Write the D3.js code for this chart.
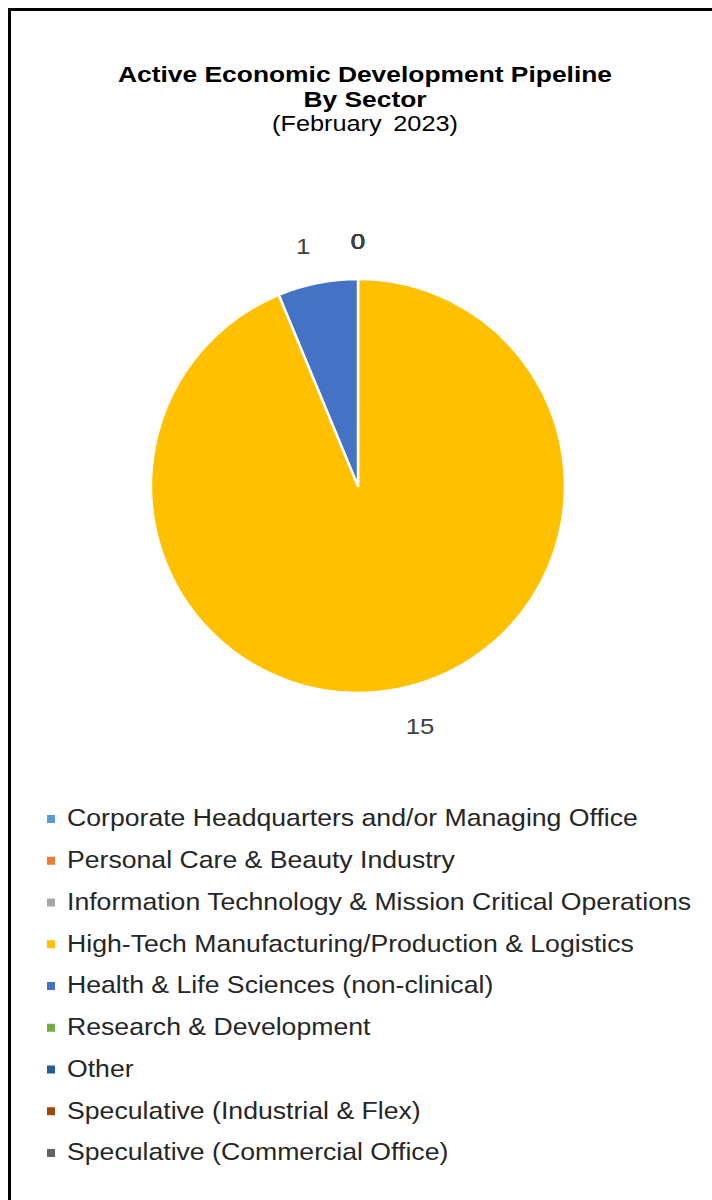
<!DOCTYPE html>
<html>
<head>
<meta charset="utf-8">
<script src="https://cdn.jsdelivr.net/npm/d3@7"></script>
<style>
  html, body { margin: 0; padding: 0; background: #fff; }
  svg { display: block; }
</style>
</head>
<body>
<script>
// Pipeline projects by sector, February 2023
const sectors = [
  "Corporate Headquarters and/or Managing Office",
  "Personal Care & Beauty Industry",
  "Information Technology & Mission Critical Operations",
  "High-Tech Manufacturing/Production & Logistics",
  "Health & Life Sciences (non-clinical)",
  "Research & Development",
  "Other",
  "Speculative (Industrial & Flex)",
  "Speculative (Commercial Office)"
];
const projectCounts = [0, 0, 0, 15, 1, 0, 0, 0, 0];
const sectorColors = ["#5B9BD5", "#ED7D31", "#A5A5A5", "#FFC000", "#4472C4",
                      "#70AD47", "#255E91", "#9E480E", "#636363"];
const titleLines = ["Active Economic Development Pipeline", "By Sector", "(February 2023)"];

const W = 712, H = 1200;
const svg = d3.select("body").append("svg")
  .attr("width", W).attr("height", H)
  .style("font-family", "Arial, 'Liberation Sans', sans-serif");

svg.append("rect").attr("width", W).attr("height", H).attr("fill", "#fff");

// chart frame (right and bottom edges fall outside the page)
svg.append("rect")
  .attr("x", 9.5).attr("y", 9.5)
  .attr("width", W + 20).attr("height", H + 20)
  .attr("fill", "none").attr("stroke", "#000").attr("stroke-width", 3);

// title
const title = svg.append("g").attr("text-anchor", "middle").attr("fill", "#000");
const titleSpecs = [
  { y: 82, size: 22, weight: "bold", sx: 1.2 },
  { y: 107, size: 22, weight: "bold", sx: 1.2 },
  { y: 131, size: 22, weight: "normal", sx: 1.15 }
];
titleLines.forEach((t, i) => {
  title.append("text")
    .attr("transform", `translate(365,${titleSpecs[i].y}) scale(${titleSpecs[i].sx},1)`)
    .attr("font-size", titleSpecs[i].size)
    .attr("font-weight", titleSpecs[i].weight)
    .attr("word-spacing", i === 2 ? 4 : 0)
    .text(t);
});

// pie
const cx = 358, cy = 486, radius = 207;
const data = sectors.map((s, i) => ({ name: s, value: projectCounts[i], color: sectorColors[i] }));
const pie = d3.pie().value(d => d.value).sort(null);
const arcs = pie(data);
const arc = d3.arc().innerRadius(0).outerRadius(radius);
const labelArc = d3.arc().innerRadius(245).outerRadius(245);

const g = svg.append("g").attr("transform", `translate(${cx},${cy})`);
g.selectAll("path.slice")
  .data(arcs.filter(d => d.value > 0))
  .join("path")
  .attr("class", "slice")
  .attr("d", arc)
  .attr("fill", d => d.data.color)
  .attr("stroke", "#fff")
  .attr("stroke-width", 2.5)
  .attr("stroke-linejoin", "round");

// value labels sit outside the rim; zero-value slices stack at the top
const midSin = d => Math.sin((d.startAngle + d.endAngle) / 2);
g.selectAll("text.val")
  .data(arcs)
  .join("text")
  .attr("class", "val")
  .attr("transform", d => {
    const [x, y] = labelArc.centroid(d);
    return `translate(${x},${y}) scale(1.12,1)`;
  })
  .attr("text-anchor", d => midSin(d) > 0.05 ? "start" : midSin(d) < -0.05 ? "end" : "middle")
  .attr("dy", "0.35em")
  .attr("font-size", 23)
  .attr("fill", "#404040")
  .text(d => d.value);

// legend
const legend = svg.append("g");
const rowY = d3.scalePoint().domain(sectors).range([818, 1152]);
const rows = legend.selectAll("g.row").data(data).join("g")
  .attr("class", "row")
  .attr("transform", d => `translate(0,${rowY(d.name)})`);
rows.append("rect")
  .attr("x", 47).attr("y", -3).attr("width", 8).attr("height", 8)
  .attr("fill", d => d.color);
rows.append("text")
  .attr("transform", "translate(67,0) scale(1.11,1)")
  .attr("dy", "0.35em")
  .attr("font-size", 24)
  .attr("fill", "#262626")
  .text(d => d.name);
</script>
</body>
</html>
